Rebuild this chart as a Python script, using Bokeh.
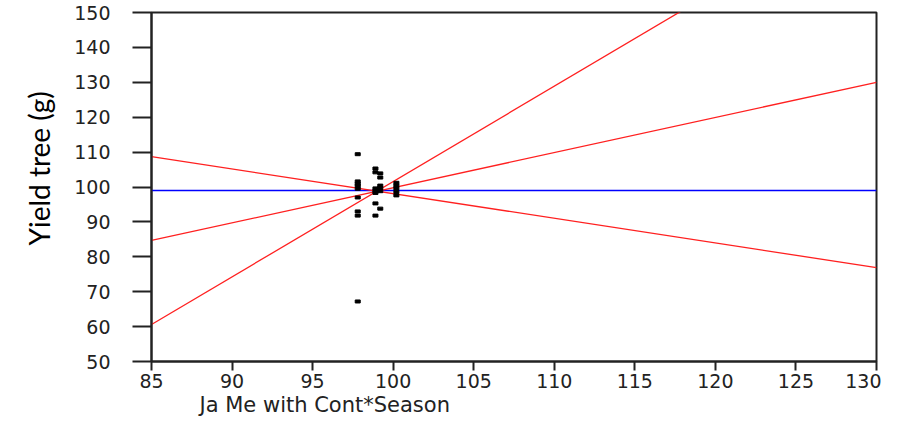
from bokeh.plotting import figure
from bokeh.models import Range1d, FixedTicker, Title, ColumnDataSource
from bokeh.embed import file_html
from bokeh.resources import INLINE

# ---- data ----
x_ticks = [85, 90, 95, 100, 105, 110, 115, 120, 125, 130]
y_ticks = [50, 60, 70, 80, 90, 100, 110, 120, 130, 140, 150]

pt_x = [97.8, 97.8, 97.8, 97.8, 97.8, 97.8, 97.8, 97.8, 97.8,
        98.9, 98.9, 98.9, 98.9, 98.9, 98.9, 98.9,
        99.2, 99.2, 99.2, 99.2, 99.2, 99.2,
        100.2, 100.2, 100.2, 100.2, 100.2]
pt_y = [109.4, 101.6, 100.9, 100.3, 99.5, 97.0, 93.0, 91.8, 67.2,
        105.3, 104.2, 99.6, 98.9, 98.3, 95.3, 91.8,
        103.9, 102.7, 100.4, 99.7, 98.8, 93.8,
        101.2, 100.4, 99.6, 98.6, 97.6]

line_x = [85, 130]
fit_line = [84.7, 130.0]
upper_line = [60.6, 183.5]
lower_line = [108.7, 76.9]
mean_value = 99.0

x_title = "Ja Me with Cont*Season"
y_title = "Yield tree (g)"

# ---- figure ----
p = figure(width=881, height=417, output_backend="svg", toolbar_location=None,
           x_range=Range1d(85, 130), y_range=Range1d(50, 150),
           min_border_left=151, min_border_right=5, min_border_top=12,
           min_border_bottom=56)
p.background_fill_color = "white"
p.border_fill_color = "white"
p.outline_line_color = "#222222"
p.outline_line_width = 2
p.xgrid.visible = False
p.ygrid.visible = False

p.line(line_x, [mean_value, mean_value], line_color="#0000ff", line_width=1.3)
p.line(line_x, fit_line, line_color="#ff2020", line_width=1.3)
p.line(line_x, upper_line, line_color="#ff2020", line_width=1.3)
p.line(line_x, lower_line, line_color="#ff2020", line_width=1.3)

src = ColumnDataSource(dict(x=pt_x, y=pt_y))
p.rect("x", "y", width=5, height=3, width_units="screen", height_units="screen",
       source=src, fill_color="black", line_color="black")

font = "DejaVu Sans"
p.xaxis.ticker = FixedTicker(ticks=x_ticks)
p.yaxis.ticker = FixedTicker(ticks=y_ticks)
for ax in (p.xaxis, p.yaxis):
    ax.axis_line_color = "#222222"
    ax.axis_line_width = 2
    ax.major_tick_line_color = "#222222"
    ax.major_tick_line_width = 2
    ax.minor_tick_line_color = None
    ax.major_tick_in = 0
    ax.major_label_text_font = font
    ax.major_label_text_font_size = "19px"
    ax.major_label_text_color = "#222222"

p.xaxis.major_tick_out = 9
p.xaxis.major_label_standoff = 3
p.yaxis.major_tick_out = 19
p.yaxis.major_label_standoff = 22

p.add_layout(Title(text=x_title, align="left", offset=48, standoff=0,
                   text_font=font, text_font_size="21px", text_font_style="normal",
                   text_color="#222222"), "below")
p.add_layout(Title(text=y_title, align="left", offset=116, standoff=32,
                   text_font="Lato", text_font_size="28px", text_font_style="normal",
                   text_color="black"), "left")

open("out.html", "w").write(file_html(p, INLINE))
